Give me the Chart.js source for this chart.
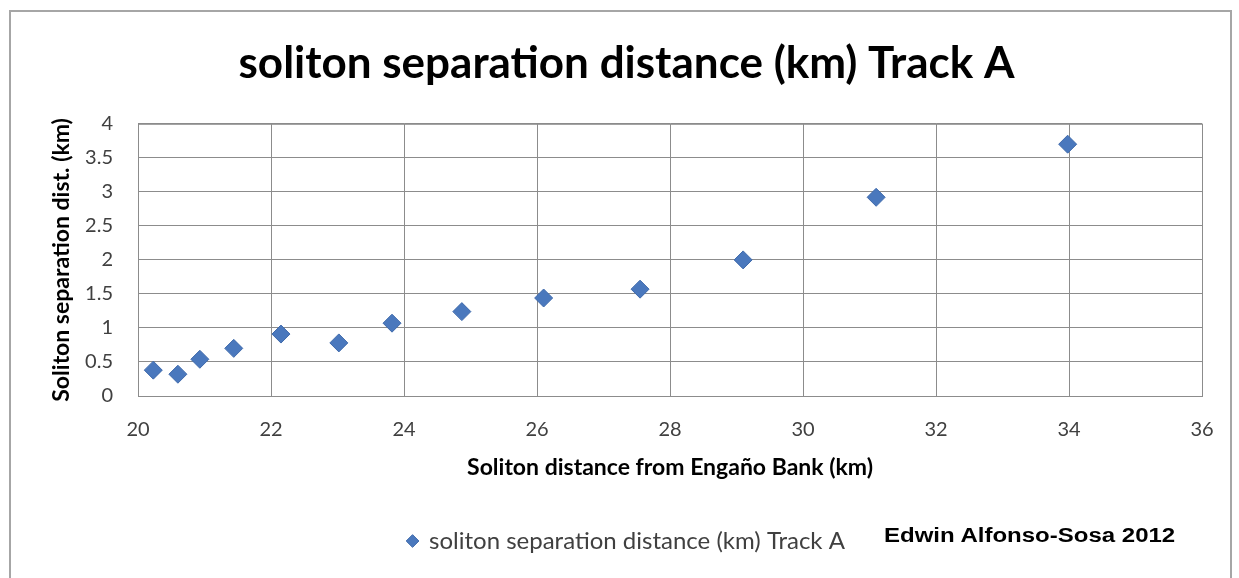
<!DOCTYPE html>
<html>
<head>
<meta charset="utf-8">
<script src="https://cdn.jsdelivr.net/npm/chart.js@4/dist/chart.umd.min.js"></script>
<style>
  html, body { margin: 0; padding: 0; background: #fff; }
  #wrap { position: relative; width: 1239px; height: 578px; overflow: hidden; }
  #frame { position: absolute; left: 9px; top: 10px; width: 1223px; height: 600px;
           border: 2px solid #a6a6a6; box-sizing: border-box; }
  #credit { position: absolute; left: 884px; top: 524px; font: bold 20px "Liberation Sans", Arial, sans-serif;
            color: #000; transform: scaleX(1.2); transform-origin: left center; white-space: nowrap; }
  canvas { position: absolute; left: 0; top: 0; }
</style>
</head>
<body>
<div id="wrap">
  <div id="frame"></div>
  <canvas id="chart" width="1239" height="578"></canvas>
  <div id="credit">Edwin Alfonso-Sosa 2012</div>
</div>
<script>
/* ---- data ---- */
const distKm = [20.23, 20.60, 20.93, 21.44, 22.15, 23.02, 23.82, 24.87, 26.10, 27.55, 29.10, 31.10, 33.98];
const sepKm  = [0.38, 0.32, 0.54, 0.70, 0.91, 0.78, 1.07, 1.24, 1.44, 1.57, 2.00, 2.92, 3.70];

const seriesLabel = 'soliton separation distance (km) Track A';
const titleText   = 'soliton separation distance (km) Track A';
const xTitle      = 'Soliton distance from Engaño Bank (km)';
const yTitle      = 'Soliton separation dist. (km)';

const FONT = 'Lato';
const gridCol = '#8c8c8c';

/* ---- chart ---- */
new Chart(document.getElementById('chart'), {
  type: 'scatter',
  data: {
    datasets: [{
      label: seriesLabel,
      data: distKm.map((x, i) => ({ x, y: sepKm[i] })),
      pointStyle: 'rectRot',
      pointRadius: 9,
      pointHoverRadius: 9,
      backgroundColor: '#4a78bd',
      borderColor: '#3f6aab',
      borderWidth: 1
    }]
  },
  options: {
    responsive: false,
    animation: false,
    layout: { padding: { left: 14, right: 0, top: 0, bottom: 15 } },
    plugins: {
      tooltip: { enabled: false },
      title: {
        display: true,
        text: titleText,
        color: '#000',
        font: { family: FONT, size: 44, weight: 'bold' },
        padding: { top: 37, bottom: 34 }
      },
      legend: {
        position: 'bottom',
        labels: {
          usePointStyle: true,
          boxWidth: 9, boxHeight: 9,
          color: '#404040',
          padding: 10,
          font: { family: FONT, size: 24 }
        }
      }
    },
    scales: {
      x: {
        type: 'linear', min: 20, max: 36,
        ticks: { stepSize: 2, padding: 22, color: '#404040', font: { family: FONT, size: 20 } },
        grid: { color: gridCol, drawTicks: false },
        border: { color: gridCol },
        title: { display: true, text: xTitle, color: '#000',
                 font: { family: FONT, size: 23, weight: 'bold' }, padding: { top: 0, bottom: 38 } },
        afterFit: s => { s.height = 123; s.paddingRight = 37; }
      },
      y: {
        type: 'linear', min: 0, max: 4,
        ticks: { stepSize: 0.5, padding: 25, color: '#404040', font: { family: FONT, size: 20 },
                 callback: v => String(v) },
        grid: { color: gridCol, drawTicks: false },
        border: { color: gridCol },
        title: { display: true, text: yTitle, color: '#000',
                 font: { family: FONT, size: 23, weight: 'bold' }, padding: { top: 34, bottom: 0 } },
        afterFit: s => { s.width = 124; }
      }
    }
  },
  plugins: [{
    // right edge of the plot area has no grid line of its own
    id: 'plotBorder',
    afterDraw(c) {
      const { ctx, chartArea: a } = c;
      ctx.save();
      ctx.strokeStyle = gridCol;
      ctx.lineWidth = 1;
      ctx.strokeRect(a.left + 0.5, a.top + 0.5, a.right - a.left, a.bottom - a.top);
      ctx.restore();
    }
  }]
});
</script>
</body>
</html>
